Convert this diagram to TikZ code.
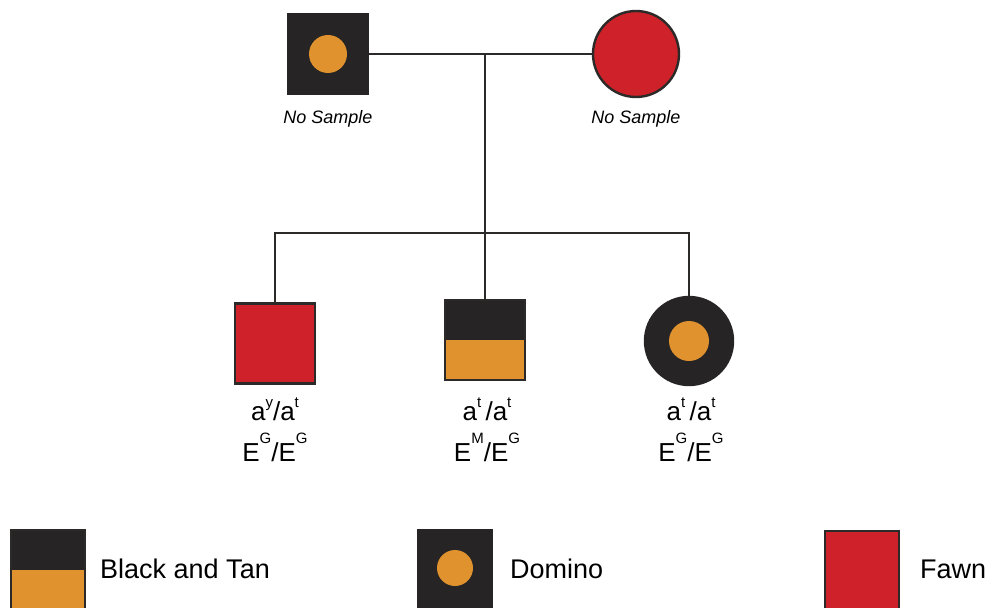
\documentclass[tikz,border=0pt]{standalone}
\usepackage{fontspec}
\setmainfont{Liberation Sans}
\definecolor{ink}{HTML}{2B2A29}
\definecolor{blk}{HTML}{262425}
\definecolor{fawnred}{HTML}{CF2129}
\definecolor{tanor}{HTML}{E0922E}
\newcommand{\allele}[3]{#1\raisebox{#3}{\fontsize{15}{15}\selectfont #2}}
\begin{document}
\begin{tikzpicture}[x=1pt,y=-1pt,
  conn/.style={draw=ink, line width=2.6pt},
  male/.style={rectangle, minimum size=80pt, inner sep=0pt, draw=ink, line width=2.4pt},
  female/.style={circle, minimum size=86pt, inner sep=0pt, draw=ink, line width=2.4pt},
  fawn/.style={fill=fawnred},
  dark/.style={fill=blk},
  blacktan/.style={fill=tanor, path picture={\fill[blk] (path picture bounding box.north west) rectangle (path picture bounding box.east);}},
  dot/.style={circle, fill=tanor, inner sep=0pt, minimum size=#1},
  dot/.default=38pt,
  nolab/.style={font=\fontsize{18}{20}\selectfont\itshape, inner sep=0pt},
  gtx/.style={font=\fontsize{26}{28}\selectfont, inner sep=0pt, anchor=base},
  legtxt/.style={font=\fontsize{27}{29}\selectfont, inner sep=0pt, anchor=base west},
  legbox/.style={rectangle, minimum width=74pt, minimum height=80pt, inner sep=0pt, draw=ink, line width=1.5pt}
]
\useasboundingbox (0,0) rectangle (992,607);
\clip (0,0) rectangle (992,607);

% parents
\node[male, dark, draw=blk] (father) at (328,54) {};
\node[dot] (fdot) at (father.center) {};
\node[female, fawn] (mother) at (636,54) {};
\node[nolab] (flab) at (328,119) {No Sample};
\node[nolab] (mlab) at (636,119) {No Sample};

% children
\node[male, fawn] (c1) at (275,343.5) {};
\node[male, blacktan] (c2) at (485,340) {};
\node[female, dark, draw=blk, minimum size=88pt] (c3) at (689,341) {};
\node[dot=40pt] (c3dot) at (c3.center) {};

% connectors
\coordinate (mid) at (485,54);
\coordinate (bar) at (485,233);
\draw[conn] (father.east) -- (mother.west);
\draw[conn] (mid) -- (bar);
\draw[conn] (c1.north) -- (c1.north |- bar) -- (c3.north |- bar) -- (c3.north);
\draw[conn] (bar) -- (c2.north);

% genotypes
\node[gtx] (g1a) at (275,420) {\allele{a}{y}{13pt}/\allele{a}{t}{13pt}};
\node[gtx] (g1b) at (275,461) {\allele{E}{G}{18pt}/\allele{E}{G}{18pt}};
\node[gtx] (g2a) at (487,420) {\allele{a}{t}{13pt}\,/\allele{a}{t}{13pt}};
\node[gtx] (g2b) at (487,461) {\allele{E}{M}{18pt}/\allele{E}{G}{18pt}};
\node[gtx] (g3a) at (691,420) {\allele{a}{t}{13pt}\,/\allele{a}{t}{13pt}};
\node[gtx] (g3b) at (691,461) {\allele{E}{G}{18pt}/\allele{E}{G}{18pt}};

% legend
\node[legbox, blacktan] (lbt) at (48,570) {};
\node[legtxt] (lbttxt) at (100,578) {Black and Tan};
\node[legbox, dark, draw=blk] (ldom) at (455,570) {};
\node[dot=36pt] (ldomdot) at (455,568) {};
\node[legtxt] (ldomtxt) at (510,578) {Domino};
\node[legbox, fawn] (lfawn) at (862,571) {};
\node[legtxt] (lfawntxt) at (920,578) {Fawn};
\end{tikzpicture}
\end{document}
